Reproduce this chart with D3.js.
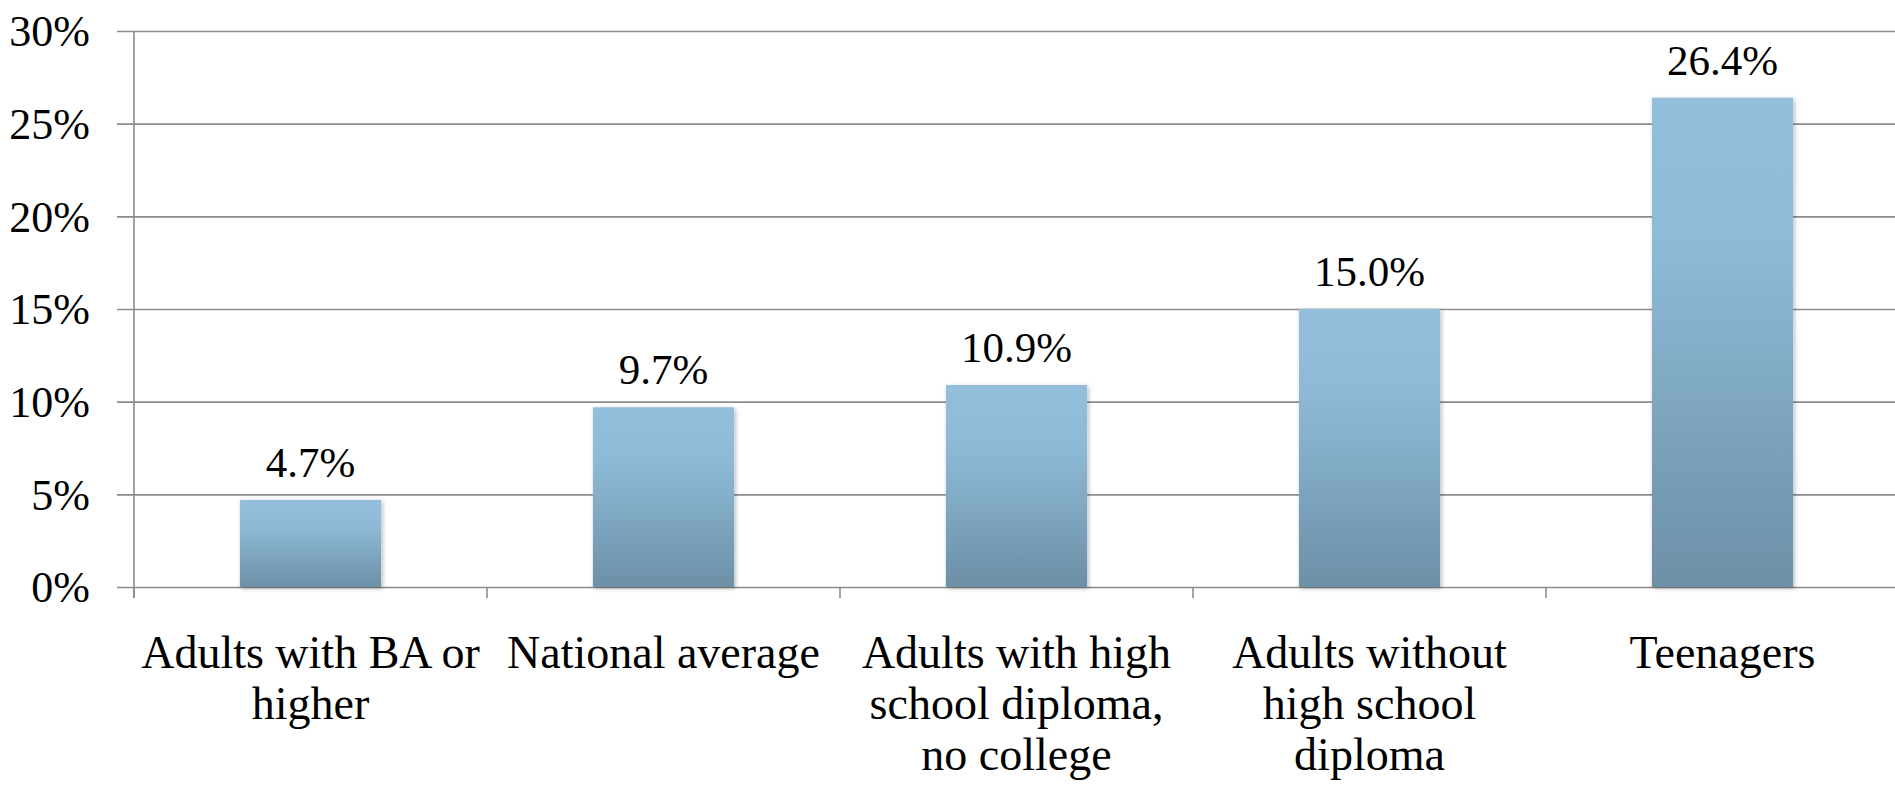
<!DOCTYPE html>
<html><head><meta charset="utf-8">
<script src="https://cdn.jsdelivr.net/npm/d3@7"></script>
<style>html,body{margin:0;padding:0;background:#fff;}svg{display:block;}</style>
</head><body>
<svg id="c" width="1895" height="785"></svg>
<script>
const categories = [
  ["Adults with BA or", "higher"],
  ["National average"],
  ["Adults with high", "school diploma,", "no college"],
  ["Adults without", "high school", "diploma"],
  ["Teenagers"]
];
const values = [4.7, 9.7, 10.9, 15.0, 26.4];
const yTicks = [0, 5, 10, 15, 20, 25, 30];

const W = 1895, H = 785;
const m = {left: 134, top: 31, right: 0, bottom: 198};
const font = "'Liberation Serif', serif";
const svg = d3.select("#c");

const x = d3.scaleBand().domain(d3.range(values.length))
  .range([m.left, W - m.right + 4]).paddingInner(0.6).paddingOuter(0.3);
const y = d3.scaleLinear().domain([0, 30]).range([H - m.bottom, m.top]);

const defs = svg.append("defs");
const g = defs.append("linearGradient").attr("id","bar").attr("x1",0).attr("y1",0).attr("x2",0).attr("y2",1);
g.append("stop").attr("offset","0").attr("stop-color","#93BFDC");
g.append("stop").attr("offset","0.3").attr("stop-color","#8EBAD7");
g.append("stop").attr("offset","1").attr("stop-color","#6C90A6");
const f = defs.append("filter").attr("id","sh").attr("x","-10%").attr("y","-10%").attr("width","130%").attr("height","130%");
f.append("feDropShadow").attr("dx",1.5).attr("dy",1.5).attr("stdDeviation",2).attr("flood-color","#000").attr("flood-opacity",0.28);

// gridlines + y ticks
const yAxis = d3.axisLeft(y).tickValues(yTicks).tickSize(-(W - m.left)).tickFormat(d => d + "%").tickPadding(44);
const ya = svg.append("g").attr("transform", `translate(${m.left},0)`).call(yAxis);
ya.select(".domain").remove();
ya.selectAll(".tick line").attr("stroke","#8C8C8C").attr("stroke-width",1.6).attr("x1", -17);
ya.selectAll(".tick text").attr("font-family", font).attr("font-size", 44).attr("fill","#000").attr("dy","0.34em");

// y axis line
svg.append("line").attr("x1", m.left).attr("x2", m.left).attr("y1", y(30)).attr("y2", y(0) + 11)
  .attr("stroke","#8C8C8C").attr("stroke-width",1.6);

// category ticks
const step = x.step();
svg.append("g").selectAll("line").data(d3.range(values.length + 1)).join("line")
  .attr("x1", i => m.left + i * step).attr("x2", i => m.left + i * step)
  .attr("y1", y(0)).attr("y2", y(0) + 11).attr("stroke","#8C8C8C").attr("stroke-width",1.6);

// bars
svg.append("g").selectAll("rect").data(values).join("rect")
  .attr("x", (d,i) => x(i)).attr("width", x.bandwidth())
  .attr("y", d => y(d)).attr("height", d => y(0) - y(d))
  .attr("fill","url(#bar)").attr("filter","url(#sh)");

// value labels
svg.append("g").selectAll("text").data(values).join("text")
  .attr("x", (d,i) => x(i) + x.bandwidth()/2).attr("y", d => y(d) - 23)
  .attr("text-anchor","middle").attr("font-family", font).attr("font-size", 43)
  .text(d => d.toFixed(1) + "%");

// category labels
const cl = svg.append("g").selectAll("text").data(categories).join("text")
  .attr("x", (d,i) => x(i) + x.bandwidth()/2).attr("y", 668)
  .attr("text-anchor","middle").attr("font-family", font).attr("font-size", 46);
cl.selectAll("tspan").data(d => d).join("tspan")
  .attr("x", function(){ return this.parentNode.getAttribute("x"); })
  .attr("dy", (d,i) => i === 0 ? 0 : 51).text(d => d);
</script>
</body></html>
